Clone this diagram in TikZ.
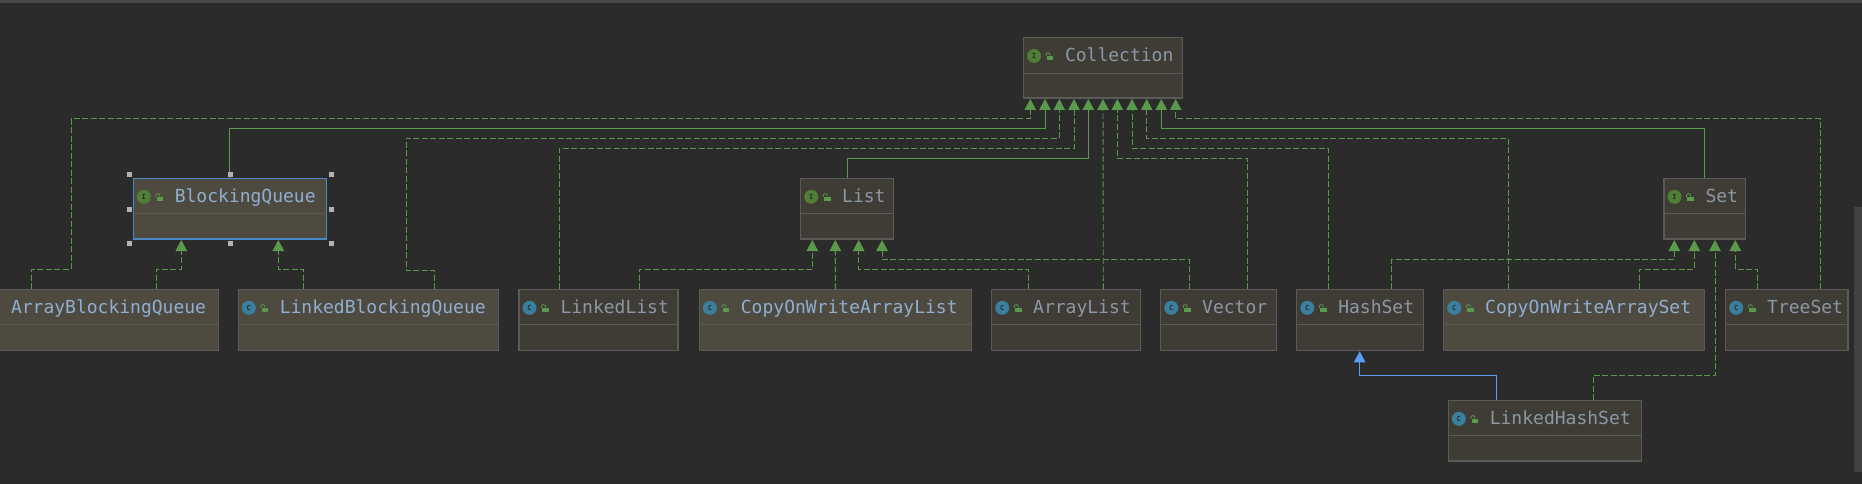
\documentclass[tikz,border=0pt]{standalone}
\usepackage{fontspec}
\setmonofont{DejaVu Sans Mono}
\usetikzlibrary{arrows.meta}
\definecolor{bgc}{HTML}{2B2B2B}
\definecolor{bordc}{HTML}{5A5A58}
\definecolor{fillA}{HTML}{3F3C35}
\definecolor{fillB}{HTML}{4E4A40}
\definecolor{txtA}{HTML}{8C97A6}
\definecolor{txtB}{HTML}{8FAFD2}
\definecolor{grn}{HTML}{5A9A4C}
\definecolor{icoI}{HTML}{4F7F35}
\definecolor{icoC}{HTML}{3A7F9E}
\definecolor{sel}{HTML}{4A88C7}
\definecolor{inh}{HTML}{589DF6}
\tikzset{
  umlbox/.style={draw=bordc,line width=1.2pt,fill=fillA,rectangle,inner sep=0pt,outer sep=0pt,anchor=north west},
  umlhot/.style={umlbox,fill=fillB},
  umlsel/.style={umlhot,draw=sel},
  lbl/.style={anchor=base west,inner sep=0pt,outer sep=0pt,font=\ttfamily\fontsize{18}{18}\selectfont},
  dep/.style={draw=grn,line width=0.9pt,dash pattern=on 6pt off 2.5pt,-{Triangle[width=11.5pt,length=11pt,fill=grn]}},
  ext/.style={draw=grn,line width=0.9pt,-{Triangle[width=11.5pt,length=11pt,fill=grn]}},
  blu/.style={draw=inh,line width=1pt,-{Triangle[width=11.5pt,length=11pt,fill=inh]}},
  hnd/.style={draw=none,fill=black!0!gray!60!white,minimum size=5pt,inner sep=0pt,rectangle}
}
\newcommand{\umlicon}[3]{%
  \node[circle,fill=#3,minimum size=14pt,inner sep=0pt] (#1-ico) at ([xshift=10.5pt,yshift=-18.5pt]#1.north west)
    {\fontsize{7}{7}\selectfont\ttfamily\bfseries\textcolor{bgc}{#2}};
  \fill[grn] ([xshift=23.2pt,yshift=-22.5pt]#1.north west) rectangle ([xshift=29.8pt,yshift=-18.2pt]#1.north west);
  \draw[grn,line width=0.8pt] ([xshift=22.5pt,yshift=-18.5pt]#1.north west) -- ++(0,-1.2)
    arc[start angle=180,end angle=0,radius=2pt] -- ++(0,0.8);
}
\newcommand{\LabelText}{}
% name, x1, x2, y1, y2, style, text colour
\newcommand{\umlnode}[7]{%
  \node[#6,minimum width={#3pt-#2pt},minimum height={#5pt-#4pt}] (#1) at (#2,#4) {};
  \draw[bordc,line width=0.8pt] ([yshift=-35.5pt]#1.north west) -- ([yshift=-35.5pt]#1.north east);
  \node[lbl,text=#7] (#1-t) at ([xshift=41.5pt,yshift=-24.5pt]#1.north west) {\LabelText};
}
\begin{document}
\begin{tikzpicture}[x=1pt,y=-1pt]
\useasboundingbox (0,0) rectangle (1862,484);
\clip (0,0) rectangle (1862,484);
\fill[bgc] (0,0) rectangle (1862,484);
\fill[fill=white!14!bgc] (0,0.5) rectangle (1862,2.7);
\fill[white!11!bgc] (1854,207) rectangle (1862,472);

\renewcommand{\LabelText}{Collection}\umlnode{col}{1023.5}{1182.7}{37.5}{98}{umlbox}{txtA}\umlicon{col}{I}{icoI}
\renewcommand{\LabelText}{BlockingQueue}\umlnode{bq}{133.3}{326.7}{178.3}{239}{umlsel}{txtB}\umlicon{bq}{I}{icoI}
\renewcommand{\LabelText}{List}\umlnode{list}{800.7}{893.7}{178.3}{239}{umlbox}{txtA}\umlicon{list}{I}{icoI}
\renewcommand{\LabelText}{Set}\umlnode{set}{1664}{1745.7}{178.3}{239}{umlbox}{txtA}\umlicon{set}{I}{icoI}
\renewcommand{\LabelText}{ArrayBlockingQueue}\umlnode{abq}{-30.5}{218.3}{289.3}{350.3}{umlhot}{txtB}
\renewcommand{\LabelText}{LinkedBlockingQueue}\umlnode{lbq}{238.3}{498.7}{289.3}{350.3}{umlhot}{txtB}\umlicon{lbq}{C}{icoC}
\renewcommand{\LabelText}{LinkedList}\umlnode{ll}{519}{678}{289.3}{350.3}{umlbox}{txtA}\umlicon{ll}{C}{icoC}
\renewcommand{\LabelText}{CopyOnWriteArrayList}\umlnode{cowl}{699.4}{971.3}{289.3}{350.3}{umlhot}{txtB}\umlicon{cowl}{C}{icoC}
\renewcommand{\LabelText}{ArrayList}\umlnode{al}{991.7}{1140.3}{289.3}{350.3}{umlbox}{txtA}\umlicon{al}{C}{icoC}
\renewcommand{\LabelText}{Vector}\umlnode{vec}{1160.7}{1276.6}{289.3}{350.3}{umlbox}{txtA}\umlicon{vec}{C}{icoC}
\renewcommand{\LabelText}{HashSet}\umlnode{hs}{1296.8}{1423.3}{289.3}{350.3}{umlbox}{txtA}\umlicon{hs}{C}{icoC}
\renewcommand{\LabelText}{CopyOnWriteArraySet}\umlnode{cows}{1443.7}{1704.3}{289.3}{350.3}{umlhot}{txtB}\umlicon{cows}{C}{icoC}
\renewcommand{\LabelText}{TreeSet}\umlnode{ts}{1725.7}{1848}{289.3}{350.3}{umlbox}{txtA}\umlicon{ts}{C}{icoC}
\renewcommand{\LabelText}{LinkedHashSet}\umlnode{lhs}{1448.3}{1641.7}{400.3}{461}{umlbox}{txtA}\umlicon{lhs}{C}{icoC}

% arrow-tip points on the box bottoms
\foreach \n/\dx in {1/6.8,2/21.5,3/35.8,4/50.5,5/64.8,6/79.5,7/93.8,8/108.5,9/123.2,10/137.8,11/152.2}
  \coordinate (c\n) at ([xshift=\dx pt,yshift=-1pt]col.south west);
\foreach \n/\dx in {1/11.6,2/34.6,3/58,4/81.3}
  \coordinate (l\n) at ([xshift=\dx pt,yshift=-1pt]list.south west);
\foreach \n/\dx in {1/10.3,2/30.3,3/51,4/71.3}
  \coordinate (s\n) at ([xshift=\dx pt,yshift=-1pt]set.south west);
\coordinate (b1) at ([xshift=48pt,yshift=-1pt]bq.south west);
\coordinate (b2) at ([xshift=145pt,yshift=-1pt]bq.south west);
\coordinate (h1) at ([xshift=62.9pt,yshift=-1pt]hs.south west);

% to Collection
\draw[dep] ([xshift=62.2pt]abq.north west) -- ++(0,-20) -- ++(39.3,0) -- (71,118.7) -| (c1);
\draw[ext] ([xshift=96pt]bq.north west) -- (229.3,128.3) -| (c2);
\draw[dep] ([xshift=196.3pt]lbq.north west) -- ++(0,-18.6) -- (406,270.7) -- (406,138.3) -| (c3);
\draw[dep] ([xshift=40pt]ll.north west) -- (559,148.3) -| (c4);
\draw[ext] ([xshift=46.6pt]list.north west) -- (847.3,158.3) -| (c5);
\draw[dep] ([xshift=111.6pt]al.north west) -- (c6);
\draw[dep] ([xshift=86.3pt]vec.north west) -- (1247,158.3) -| (c7);
\draw[dep] ([xshift=31.2pt]hs.north west) -- (1328,148.3) -| (c8);
\draw[dep] ([xshift=64.3pt]cows.north west) -- (1508,138.3) -| (c9);
\draw[ext] ([xshift=40pt]set.north west) -- (1704,128.3) -| (c10);
\draw[dep] ([xshift=94.3pt]ts.north west) -- (1820,118.7) -| (c11);

% to BlockingQueue
\draw[dep] ([xshift=186.8pt]abq.north west) -- (156.3,269.3) -| (b1);
\draw[dep] ([xshift=65pt]lbq.north west) -- (303.3,269.3) -| (b2);

% to List
\draw[dep] ([xshift=120pt]ll.north west) -- (639,269.3) -| (l1);
\draw[dep] ([xshift=135.9pt]cowl.north west) -- (l2);
\draw[dep] ([xshift=36.6pt]al.north west) -- (1028.3,269.3) -| (l3);
\draw[dep] ([xshift=28.6pt]vec.north west) -- (1189.3,259.3) -| (l4);

% to Set
\draw[dep] ([xshift=94.9pt]hs.north west) -- (1391.7,259.3) -| (s1);
\draw[dep] ([xshift=195.6pt]cows.north west) -- (1639.3,269.3) -| (s2);
\draw[dep] ([xshift=145pt]lhs.north west) -- (1593.3,375.3) -| (s3);
\draw[dep] ([xshift=32pt]ts.north west) -- (1757.7,269.3) -| (s4);

% to HashSet
\draw[blu] ([xshift=48pt]lhs.north west) -- (1496.3,375.3) -| (h1);

% selection handles
\foreach \hn/\hx/\hy in {1/129.3/174.7,2/230.3/174.7,3/331/174.7,4/129.3/209.3,5/331/209.3,6/129.3/243.7,7/230.3/243.7,8/331/243.7}
  \node[hnd] (hd\hn) at (\hx,\hy) {};
\end{tikzpicture}
\end{document}
